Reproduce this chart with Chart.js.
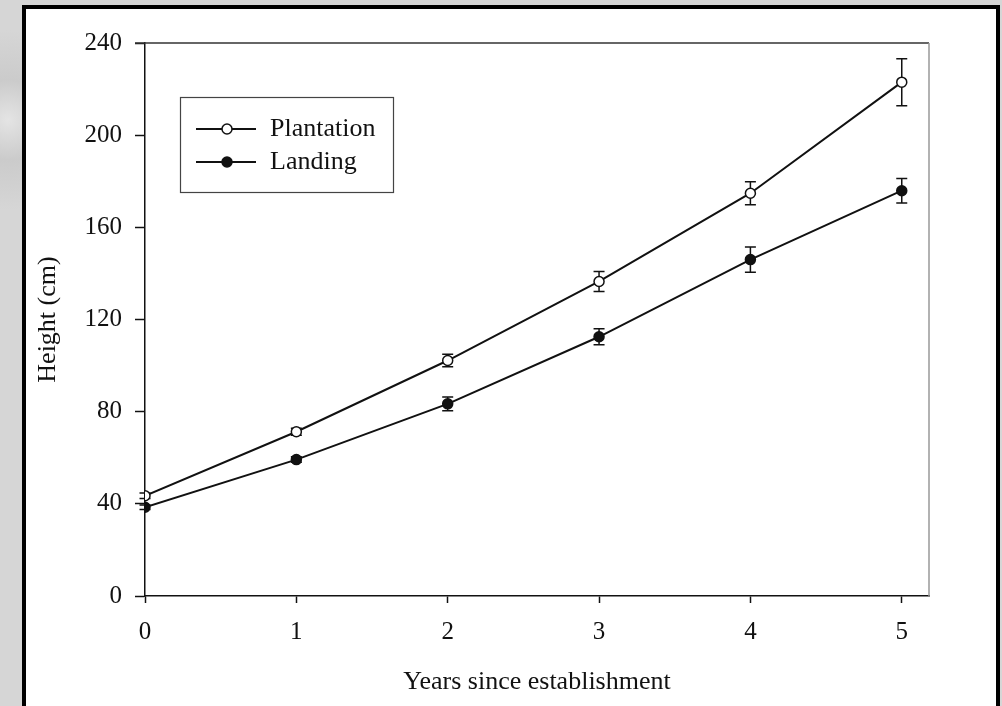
<!DOCTYPE html>
<html>
<head>
<meta charset="utf-8">
<script src="https://cdn.jsdelivr.net/npm/chart.js@4/dist/chart.umd.min.js"></script>
<style>
html, body { margin: 0; padding: 0; }
body {
    width: 1002px; height: 706px; position: relative; overflow: hidden;
    background: #d2d2d2;
    background-image: radial-gradient(circle at 8px 120px, #e4e4e4 0, #cbcbcb 40px, #d6d6d6 90px),
                      linear-gradient(180deg, #d9d9d9, #cfcfcf);
}
#panel {
    position: absolute; left: 22px; top: 5px; width: 970px; height: 720px;
    background: #fff; border: 4px solid #000;
}
#chart { position: absolute; left: 0; top: 0; }
</style>
</head>
<body>
<div id="panel"></div>
<canvas id="chart" width="1002" height="706"></canvas>
<script>
// values
var years = [0, 1, 2, 3, 4, 5];
var plantation = [43.5, 71.3, 102.2, 136.5, 174.8, 223.0];
var plantationErr = [1.2, 1.5, 2.7, 4.3, 5.0, 10.2];
var landing = [38.5, 59.2, 83.4, 112.5, 146.0, 175.9];
var landingErr = [1.0, 1.2, 3.0, 3.5, 5.5, 5.3];
var seriesNames = ['Plantation', 'Landing'];
var xTitle = 'Years since establishment';
var yTitle = 'Height (cm)';

var family = "'Liberation Serif', 'Times New Roman', serif";
var tickFont = { family: family, size: 25 };
var textFont = { family: family, size: 26 };
var ink = '#111';

function toPoints(vals) {
    return years.map((x, i) => ({ x: x, y: vals[i] }));
}

// error bars are drawn under the markers
var errorBars = {
    id: 'errorBars',
    beforeDatasetsDraw(chart) {
        const ctx = chart.ctx;
        const xs = chart.scales.x, ys = chart.scales.y;
        const errs = [plantationErr, landingErr];
        ctx.save();
        ctx.strokeStyle = ink;
        ctx.lineWidth = 1.5;
        chart.data.datasets.forEach((ds, d) => {
            ds.data.forEach((p, i) => {
                const x = xs.getPixelForValue(p.x);
                const top = ys.getPixelForValue(p.y + errs[d][i]);
                const bot = ys.getPixelForValue(p.y - errs[d][i]);
                ctx.beginPath();
                ctx.moveTo(x, top); ctx.lineTo(x, bot);
                ctx.moveTo(x - 5.5, top); ctx.lineTo(x + 5.5, top);
                ctx.moveTo(x - 5.5, bot); ctx.lineTo(x + 5.5, bot);
                ctx.stroke();
            });
        });
        ctx.restore();
    }
};

// top and right edges of the plot frame
var frame = {
    id: 'frame',
    beforeDatasetsDraw(chart) {
        const a = chart.chartArea, ctx = chart.ctx;
        ctx.save();
        ctx.lineWidth = 1.5;
        ctx.strokeStyle = '#333';
        ctx.beginPath(); ctx.moveTo(a.left - 10, a.top); ctx.lineTo(a.right, a.top); ctx.stroke();
        ctx.strokeStyle = '#999';
        ctx.beginPath(); ctx.moveTo(a.right, a.top); ctx.lineTo(a.right, a.bottom); ctx.stroke();
        ctx.restore();
    }
};

// boxed legend in the upper left of the plot
var boxLegend = {
    id: 'boxLegend',
    afterDraw(chart) {
        const ctx = chart.ctx;
        ctx.save();
        ctx.strokeStyle = '#444';
        ctx.lineWidth = 1.2;
        ctx.strokeRect(180.5, 97.5, 213, 95);
        ctx.font = textFont.size + 'px ' + textFont.family;
        ctx.textBaseline = 'middle';
        chart.data.datasets.forEach((ds, i) => {
            const y = 129 + i * 33;
            ctx.strokeStyle = ink;
            ctx.lineWidth = 1.8;
            ctx.beginPath(); ctx.moveTo(196, y); ctx.lineTo(256, y); ctx.stroke();
            ctx.beginPath();
            ctx.arc(227, y, 5, 0, Math.PI * 2);
            ctx.fillStyle = ds.pointBackgroundColor;
            ctx.fill();
            ctx.lineWidth = 1.5;
            ctx.stroke();
            ctx.fillStyle = ink;
            ctx.fillText(ds.label, 270, y);
        });
        ctx.restore();
    }
};

var ctx = document.getElementById('chart').getContext('2d');
var chart = new Chart(ctx, {
    type: 'line',
    data: {
        datasets: [
            {
                label: seriesNames[0],
                data: toPoints(plantation),
                borderColor: ink,
                borderWidth: 2,
                pointRadius: 5,
                pointBorderWidth: 1.5,
                pointBorderColor: ink,
                pointBackgroundColor: '#fff',
                tension: 0
            },
            {
                label: seriesNames[1],
                data: toPoints(landing),
                borderColor: ink,
                borderWidth: 2,
                pointRadius: 5,
                pointBorderWidth: 1.5,
                pointBorderColor: ink,
                pointBackgroundColor: ink,
                tension: 0
            }
        ]
    },
    options: {
        responsive: false,
        animation: false,
        devicePixelRatio: 1,
        layout: { padding: { top: 43, right: 73, bottom: 0, left: 0 } },
        scales: {
            x: {
                type: 'linear',
                min: 0,
                max: 5.18,
                ticks: { stepSize: 1, includeBounds: false, padding: 14, color: ink, font: tickFont },
                grid: { drawOnChartArea: false, drawTicks: true, tickLength: 7, tickColor: ink, tickWidth: 1.5 },
                border: { display: true, color: ink, width: 1.5 },
                title: { display: true, text: xTitle, color: ink, font: textFont, padding: { top: 0, bottom: 8 } },
                afterFit: s => { s.height = 110; }
            },
            y: {
                min: 0,
                max: 240,
                ticks: { stepSize: 40, padding: 13, color: ink, font: tickFont },
                grid: { drawOnChartArea: false, drawTicks: true, tickLength: 10, tickColor: ink, tickWidth: 1.5 },
                border: { display: true, color: ink, width: 1.5 },
                title: { display: true, text: yTitle, color: ink, font: textFont, padding: { top: 33, bottom: 0 } },
                afterFit: s => { s.width = 145; }
            }
        },
        plugins: {
            legend: { display: false },
            tooltip: { enabled: false }
        }
    },
    plugins: [errorBars, frame, boxLegend]
});
</script>
</body>
</html>
